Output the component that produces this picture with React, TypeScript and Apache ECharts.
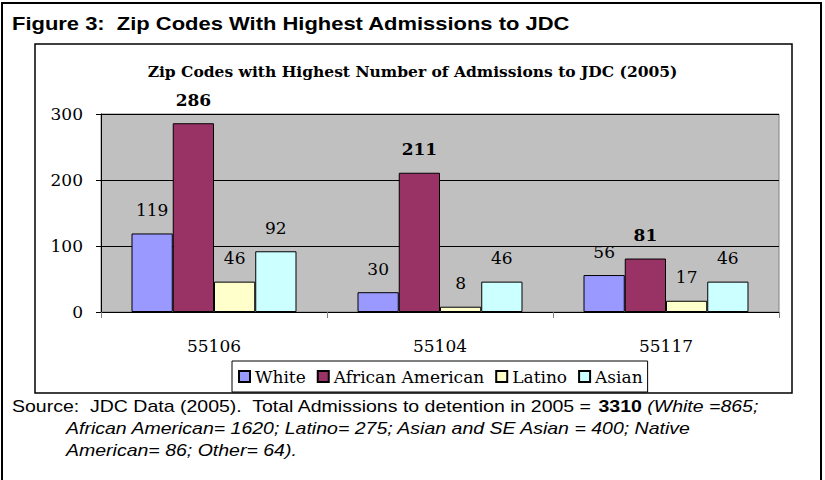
import React, { useEffect, useRef } from "react";
import * as echarts from "echarts";

const categories = ["55106", "55104", "55117"];
const seriesNames = ["White", "African American", "Latino", "Asian"];
const white = [119, 30, 56];
const africanAmerican = [286, 211, 81];
const latino = [46, 8, 17];
const asian = [92, 46, 46];
const colors = ["#9999FF", "#993366", "#FFFFCC", "#CCFFFF"];
const yTicks = [0, 100, 200, 300];

const SERIF = "'DejaVu Serif', 'Liberation Serif', serif";
const SANS = "'Liberation Sans', Arial, sans-serif";
const STRETCH = 1.22;

export default function App() {
  const ref = useRef<HTMLDivElement>(null);
  useEffect(() => {
    document.body.style.margin = "0";
    const chart = echarts.init(ref.current!, null, { renderer: "svg" });
    const values = [white, africanAmerican, latino, asian];
    chart.setOption({
      animation: false,
      backgroundColor: "#ffffff",
      title: {
        text: "Zip Codes with Highest Number of Admissions to JDC (2005)",
        left: "center",
        top: 58,
        textStyle: { fontFamily: SERIF, fontSize: 15.5, fontWeight: "bold", color: "#000" },
      },
      grid: {
        left: 101,
        right: 46,
        top: 114,
        bottom: 168,
        show: true,
        backgroundColor: "#C0C0C0",
        borderColor: "#808080",
        borderWidth: 1,
      },
      legend: {
        data: seriesNames,
        left: 232,
        top: 361,
        itemWidth: 11,
        itemHeight: 11,
        itemGap: 11,
        padding: [7, 5, 7, 6],
        backgroundColor: "#ffffff",
        borderColor: "#000",
        borderWidth: 1,
        icon: "rect",
        textStyle: { fontFamily: SERIF, fontSize: 17, color: "#000", padding: [0, 0, 0, 0] },
      },
      xAxis: {
        type: "category",
        data: categories,
        axisLine: { lineStyle: { color: "#000", width: 1 } },
        axisTick: { show: true, length: 6, lineStyle: { color: "#808080" } },
        axisLabel: { fontFamily: SERIF, fontSize: 17, color: "#000", margin: 25 },
      },
      yAxis: {
        type: "value",
        min: 0,
        max: 300,
        interval: 100,
        axisLine: { show: true, lineStyle: { color: "#000", width: 1 } },
        axisTick: { show: true, length: 5, lineStyle: { color: "#000" } },
        axisLabel: {
          fontFamily: SERIF,
          fontSize: 17,
          color: "#000",
          margin: 18,
          formatter: (v: number) => (yTicks.includes(v) ? String(v) : ""),
        },
        splitLine: { show: true, lineStyle: { color: "#000", width: 1 } },
      },
      series: seriesNames.map((name, i) => ({
        name,
        type: "bar",
        data: values[i],
        barGap: "0%",
        barCategoryGap: "27%",
        itemStyle: { color: colors[i], borderColor: "#000", borderWidth: 1 },
        label: {
          show: true,
          position: "top",
          distance: 15,
          fontFamily: SERIF,
          fontSize: 17,
          fontWeight: i === 1 ? "bold" : "normal",
          color: "#000",
        },
      })),
      graphic: [
        {
          type: "rect",
          shape: { x: 2, y: 3, width: 819, height: 490 },
          style: { fill: "none", stroke: "#000", lineWidth: 2 },
          z: -1,
        },
        {
          type: "rect",
          shape: { x: 35, y: 44, width: 757, height: 349 },
          style: { fill: "none", stroke: "#000", lineWidth: 1.5 },
          z: -1,
        },
        {
          type: "text",
          x: 12,
          y: 24,
          scaleX: STRETCH,
          style: {
            text: "Figure 3:  Zip Codes With Highest Admissions to JDC",
            fontFamily: SANS,
            fontSize: 18,
            fontWeight: "bold",
            fill: "#000",
            verticalAlign: "middle",
          },
        },
        {
          type: "text",
          x: 12,
          y: 407,
          scaleX: STRETCH,
          style: {
            text: "{a|Source:  JDC Data (2005).  Total Admissions to detention in 2005 = }{b|3310}{c| (White =865;}",
            verticalAlign: "middle",
            rich: {
              a: { fontFamily: SANS, fontSize: 16, fill: "#000" },
              b: { fontFamily: SANS, fontSize: 16, fontWeight: "bold", fill: "#000" },
              c: { fontFamily: SANS, fontSize: 16, fontStyle: "italic", fill: "#000" },
            },
          },
        },
        {
          type: "text",
          x: 66,
          y: 429,
          scaleX: STRETCH,
          style: {
            text: "African American= 1620; Latino= 275; Asian and SE Asian = 400; Native",
            fontFamily: SANS,
            fontSize: 16,
            fontStyle: "italic",
            fill: "#000",
            verticalAlign: "middle",
          },
        },
        {
          type: "text",
          x: 66,
          y: 451,
          scaleX: STRETCH,
          style: {
            text: "American= 86; Other= 64).",
            fontFamily: SANS,
            fontSize: 16,
            fontStyle: "italic",
            fill: "#000",
            verticalAlign: "middle",
          },
        },
      ],
    });
    return () => chart.dispose();
  }, []);
  return <div ref={ref} style={{ width: 825, height: 480 }} />;
}
